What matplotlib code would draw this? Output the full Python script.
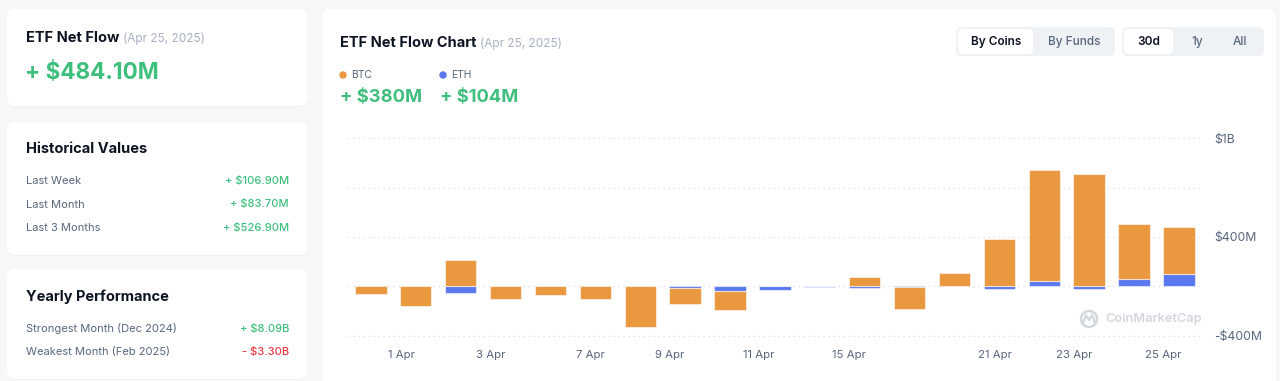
import matplotlib
matplotlib.use("Agg")
import matplotlib.pyplot as plt
import numpy as np
from matplotlib.patches import FancyBboxPatch, Circle

plt.rcParams['font.family'] = ['Inter', 'DejaVu Sans']

# data (USD millions), trading days 31 Mar - 25 Apr 2025
days = ['31 Mar', '1 Apr', '2 Apr', '3 Apr', '4 Apr', '7 Apr', '8 Apr', '9 Apr', '10 Apr',
        '11 Apr', '14 Apr', '15 Apr', '16 Apr', '17 Apr', '21 Apr', '22 Apr', '23 Apr',
        '24 Apr', '25 Apr']
btc = [-60, -158, 218, -100, -65, -104, -325, -127, -153, 0, 1.5, 78, -178, 107, 381, 900, 913, 442, 380]
eth = [7, 0, -52, 0, 6, 0, 0, -13, -38, -32, -5, -14, -6, 0, -24, 43, -24, 63, 104]
xtick_labels = ['1 Apr', '3 Apr', '7 Apr', '9 Apr', '11 Apr', '15 Apr', '21 Apr', '23 Apr', '25 Apr']
xtick_pos = [0.67, 2.67, 4.88, 6.66, 8.64, 10.65, 13.9, 15.66, 17.64]
ytick_vals = [-400, 400, 1200]
ytick_labels = ['-$400M', '$400M', '$1B']
grid_vals = [-400, 0, 400, 800, 1200]

hist_rows = [('Last Week', '+ $106.90M'), ('Last Month', '+ $83.70M'), ('Last 3 Months', '+ $526.90M')]
yearly_rows = [('Strongest Month (Dec 2024)', '+ $8.09B'), ('Weakest Month (Feb 2025)', '- $3.30B')]

W, H = 1280, 381
ORANGE = '#E99840'
BLUE = '#5A78F0'
GREEN = '#3EBF7C'
RED = '#EA3943'
DARK = '#0D1421'
GRAY = '#58667E'
LIGHT = '#A6B0C3'

fig = plt.figure(figsize=(W / 100, H / 100), dpi=100)
fig.patch.set_facecolor('#F6F7F9')

# background layer in pixel coordinates
bg = fig.add_axes([0, 0, 1, 1])
bg.set_xlim(0, W)
bg.set_ylim(H, 0)
bg.axis('off')
renderer = fig.canvas.get_renderer()


def card(x0, y0, x1, y1, fc='white', r=8, shadow=True):
    if shadow:
        bg.add_patch(FancyBboxPatch((x0, y0 + 1), x1 - x0, y1 - y0, boxstyle=f"round,pad=0,rounding_size={r}",
                                    fc='#E9ECF1', ec='none', alpha=0.6))
    bg.add_patch(FancyBboxPatch((x0, y0), x1 - x0, y1 - y0, boxstyle=f"round,pad=0,rounding_size={r}",
                                fc=fc, ec='none'))


def title_with_date(x, y, title):
    t = bg.text(x, y, title, fontsize=10.5, fontweight='bold', color=DARK, va='center')
    x1 = t.get_window_extent(renderer).x1
    bg.text(x1 + 4, y + 0.5, '(Apr 25, 2025)', fontsize=8.5, color=LIGHT, va='center')


card(7, 9, 307, 106)
card(7, 122, 307, 255)
card(7, 269, 307, 379)
card(322, 9, 1276, 392)

# left cards
title_with_date(26, 38, 'ETF Net Flow')
bg.text(25, 73, '+ $484.10M', fontsize=16.2, fontweight='bold', color=GREEN, va='center')

bg.text(26, 149, 'Historical Values', fontsize=10.5, fontweight='bold', color=DARK, va='center')
for i, (lab, val) in enumerate(hist_rows):
    y = 181 + i * 23.5
    bg.text(26, y, lab, fontsize=8, color=GRAY, va='center')
    bg.text(289, y, val, fontsize=8, color=GREEN, va='center', ha='right', fontweight='medium')

bg.text(26, 297, 'Yearly Performance', fontsize=10.5, fontweight='bold', color=DARK, va='center')
for i, (lab, val) in enumerate(yearly_rows):
    y = 329 + i * 23.5
    bg.text(26, y, lab, fontsize=8, color=GRAY, va='center')
    bg.text(289, y, val, fontsize=8, color=GREEN if val.startswith('+') else RED,
            va='center', ha='right', fontweight='medium')

# right card header
title_with_date(340, 43, 'ETF Net Flow Chart')

bg.add_patch(Circle((343, 75), 3, color=ORANGE))
bg.text(351, 75, 'BTC', fontsize=7.5, color=GRAY, va='center')
bg.add_patch(Circle((443, 75), 3, color=BLUE))
bg.text(451, 75, 'ETH', fontsize=7.5, color=GRAY, va='center')
bg.text(340, 97, f'+ ${btc[-1]:.0f}M', fontsize=13.2, fontweight='bold', color=GREEN, va='center')
bg.text(440, 97, f'+ ${eth[-1]:.0f}M', fontsize=13.2, fontweight='bold', color=GREEN, va='center')

# toggle buttons
card(956, 27, 1115, 56, fc='#EFF2F5', r=6, shadow=False)
card(958, 29, 1033, 54, fc='white', r=5, shadow=False)
bg.text(996, 42, 'By Coins', fontsize=8.5, fontweight='semibold', color=DARK, ha='center', va='center')
bg.text(1074, 42, 'By Funds', fontsize=8.5, fontweight='medium', color=GRAY, ha='center', va='center')
card(1122, 27, 1264, 56, fc='#EFF2F5', r=6, shadow=False)
card(1124, 29, 1173, 54, fc='white', r=5, shadow=False)
bg.text(1149, 42, '30d', fontsize=8.5, fontweight='semibold', color=DARK, ha='center', va='center')
bg.text(1197, 42, '1y', fontsize=8.5, fontweight='medium', color=GRAY, ha='center', va='center')
bg.text(1240, 42, 'All', fontsize=8.5, fontweight='medium', color=GRAY, ha='center', va='center')

# watermark
bg.add_patch(Circle((1089, 319), 8, fill=False, ec='#D3D7DE', lw=1.8))
bg.plot([1083, 1086, 1089, 1092, 1095], [323, 315, 320, 315, 323], color='#D3D7DE', lw=1.6)
bg.text(1105, 319, 'CoinMarketCap', fontsize=9.2, fontweight='semibold', color='#D3D7DE', va='center')

# chart axes
ax = fig.add_axes([348 / W, 35 / H, 852 / W, 218 / H])
ax.set_facecolor('none')
x = np.arange(len(days))
btc_a = np.array(btc, dtype=float)
eth_a = np.array(eth, dtype=float)

pos_base = np.zeros(len(x))
neg_base = np.zeros(len(x))
for vals, col in [(eth_a, BLUE), (btc_a, ORANGE)]:
    bottoms = np.where(vals >= 0, pos_base, neg_base)
    ax.bar(x, vals, 0.7, bottom=bottoms, color=col, edgecolor=(1, 1, 1, 0.55), linewidth=0.8, zorder=3)
    pos_base = pos_base + np.where(vals > 0, vals, 0)
    neg_base = neg_base + np.where(vals < 0, vals, 0)

for g in grid_vals:
    ax.axhline(g, color='#D9DDE3', lw=0.9, ls=(0, (1, 3)), zorder=1)

ax.set_xlim(-0.51, len(x) - 1 + 0.47)
ax.set_ylim(-481, 1281)
ax.set_xticks(xtick_pos)
ax.set_xticklabels(xtick_labels, fontsize=8.2, color=GRAY)
ax.yaxis.tick_right()
ax.set_yticks(ytick_vals)
ax.set_yticklabels(ytick_labels, fontsize=8.8, color=GRAY)
ax.tick_params(axis='both', length=0)
ax.tick_params(axis='y', pad=10)
ax.tick_params(axis='x', pad=3)
for s in ax.spines.values():
    s.set_visible(False)

fig.savefig('out.png', dpi=100, facecolor=fig.get_facecolor())
